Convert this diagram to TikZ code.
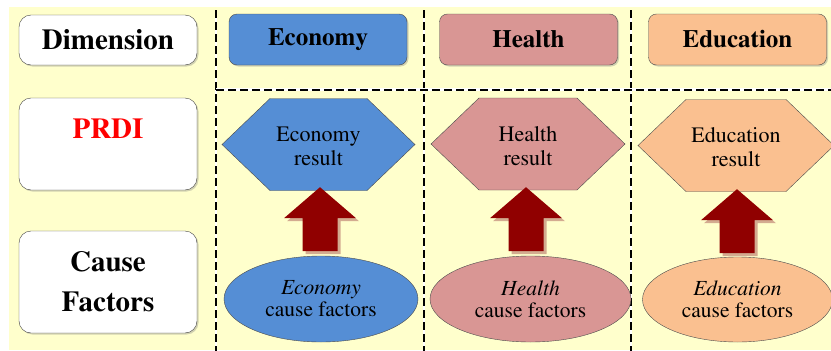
\documentclass[tikz,border=0pt]{standalone}
\usepackage[T1]{fontenc}
\usepackage{mathptmx}
\usetikzlibrary{shadows,shapes.geometric}
\definecolor{bgyellow}{HTML}{FFFFCC}
\definecolor{econ}{HTML}{558ED5}
\definecolor{heal}{HTML}{D99694}
\definecolor{educ}{HTML}{FAC090}
\definecolor{arrred}{HTML}{900000}
\definecolor{arrshadow}{RGB}{200,150,130}
\begin{document}
\begin{tikzpicture}[x=1pt,y=-1pt,
  boxshadow/.style={drop shadow={shadow xshift=1.5pt,shadow yshift=-1.5pt,opacity=0.35}},
  leftbox/.style={draw=black!75, fill=white, rounded corners=12pt, minimum width=178,
     align=center, font=\fontsize{29}{40}\selectfont\bfseries, boxshadow},
  hdr/.style={draw=black!70, rounded corners=8pt, minimum width=178, minimum height=51,
     font=\fontsize{25}{30}\selectfont\bfseries, boxshadow},
  restext/.style={align=center, font=\fontsize{22}{24}\selectfont, inner sep=0},
  cause/.style={ellipse, draw=black!70, align=center, font=\fontsize{21.5}{22}\selectfont, inner sep=0},
  sepw/.style={white, line width=2.4pt},
  sepd/.style={black, line width=2pt, dash pattern=on 8pt off 4pt},
  hexa/.pic={\filldraw[draw=black!70, fill=\hexcol] (-\hw,0) -- (-\hw+48,-46) -- (\hw-48,-46) -- (\hw,0) -- (\hw-48,46) -- (-\hw+48,46) -- cycle;},
  uparr/.pic={
    \fill[arrshadow, opacity=0.8] (3,3) -- (39,34) -- (20.5,34) -- (20.5,67) -- (-14.5,67) -- (-14.5,34) -- (-33,34) -- cycle;
    \fill[arrred] (0,0) -- (36,31) -- (17.5,31) -- (17.5,64) -- (-17.5,64) -- (-17.5,31) -- (-36,31) -- cycle;}
]
\useasboundingbox (0,0) rectangle (831,351);
\fill[bgyellow] (9,7) rectangle (831,350);

% separators
\foreach \xx in {216,424,631}{
  \draw[sepw] (\xx,10) -- (\xx,351);
  \draw[sepd] (\xx,10) -- (\xx,351);
}
\draw[sepw] (216,89.5) -- (831,89.5);
\draw[sepd] (216,89.5) -- (831,89.5);

% left column
\node[leftbox, minimum height=50] (dim) at (108,40) {Dimension};
\node[leftbox, minimum height=92, text height=20pt, text depth=32pt, text=red] (prdi) at (108,144) {PRDI};
\node[leftbox, minimum height=102] (cf) at (108,282) {Cause\\Factors};

% headers
\node[hdr, fill=econ] (heco) at (318,39.5) {Economy};
\node[hdr, fill=heal] (hhea) at (528.5,39.5) {Health};
\node[hdr, fill=educ] (hedu) at (737.5,39.5) {Education};

% hexagons
\def\hexcol{econ}\def\hw{96.5}
\pic at (318.5,144.5) {hexa};
\def\hexcol{heal}\def\hw{97}
\pic at (528,144) {hexa};
\def\hexcol{educ}\def\hw{98}
\pic at (736,145.5) {hexa};
\node[restext, minimum width=193, minimum height=92] (reco) at (318.5,146) {Economy\\result};
\node[restext, minimum width=194, minimum height=92] (rhea) at (528,146) {Health\\result};
\node[restext, minimum width=196, minimum height=92] (redu) at (736,147) {Education\\result};

% ellipses
\node[cause, fill=econ, minimum width=194, minimum height=86] (ceco) at (321,299) {\textit{Economy}\\cause factors};
\node[cause, fill=heal, minimum width=201, minimum height=86] (chea) at (530.5,299) {\textit{Health}\\cause factors};
\node[cause, fill=educ, minimum width=190, minimum height=85] (cedu) at (737.5,299.5) {\textit{Education}\\cause factors};

% block arrows
\path (reco.south) ++(1.5,-5) coordinate (teco);
\path (rhea.south) ++(-2,-5) coordinate (thea);
\path (redu.south) ++(1,-4) coordinate (tedu);
\pic at (teco) {uparr};
\pic at (thea) {uparr};
\pic at (tedu) {uparr};
\end{tikzpicture}
\end{document}
